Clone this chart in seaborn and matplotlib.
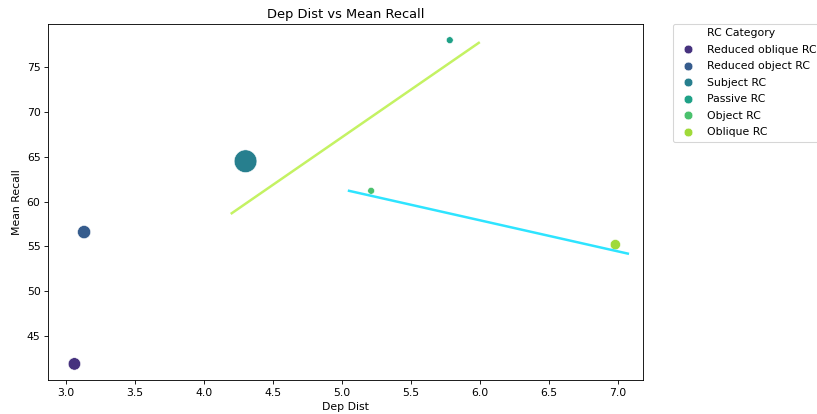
import matplotlib
matplotlib.use('Agg')
import matplotlib.pyplot as plt
import seaborn as sns
import pandas as pd

categories = ['Reduced oblique RC', 'Reduced object RC', 'Subject RC', 'Passive RC', 'Object RC', 'Oblique RC']
dep_dist = [3.06, 3.13, 4.30, 5.78, 5.21, 6.98]
mean_recall = [41.9, 56.6, 64.5, 78.0, 61.2, 55.2]
counts = [16, 18, 53, 5, 5, 11]

# fitted lines (end points)
line1_x = [4.2, 5.99]
line1_y = [58.7, 77.7]
line2_x = [5.05, 7.07]
line2_y = [61.2, 54.2]

df = pd.DataFrame({'Dep Dist': dep_dist, 'Mean Recall': mean_recall,
                   'RC Category': categories, 'Count': counts})

dpi = 78
fig, ax = plt.subplots(figsize=(817 / dpi, 414 / dpi), dpi=dpi)
fig.subplots_adjust(left=0.059, right=0.787, top=0.942, bottom=0.082)

sns.scatterplot(data=df, x='Dep Dist', y='Mean Recall', hue='RC Category', size='Count',
                sizes=(40, 440), palette='viridis', hue_order=categories, ax=ax)
sns.lineplot(x=line1_x, y=line1_y, color='#c4f263', linewidth=2.3, ax=ax)
sns.lineplot(x=line2_x, y=line2_y, color='#2ee4ff', linewidth=2.3, ax=ax)

handles, labels = ax.get_legend_handles_labels()
handles, labels = handles[:7], labels[:7]
for h in handles:
    if hasattr(h, 'set_markersize'):
        h.set_markersize(8)
ax.legend(handles, labels, bbox_to_anchor=(1.05, 1), loc='upper left',
          borderaxespad=0., labelspacing=0.6)

ax.set_xlim(2.87, 7.18)
ax.set_ylim(40.1, 79.8)
ax.set_title('Dep Dist vs Mean Recall')
ax.set_xlabel('Dep Dist')
ax.set_ylabel('Mean Recall')

fig.savefig('out.png', dpi=dpi)
